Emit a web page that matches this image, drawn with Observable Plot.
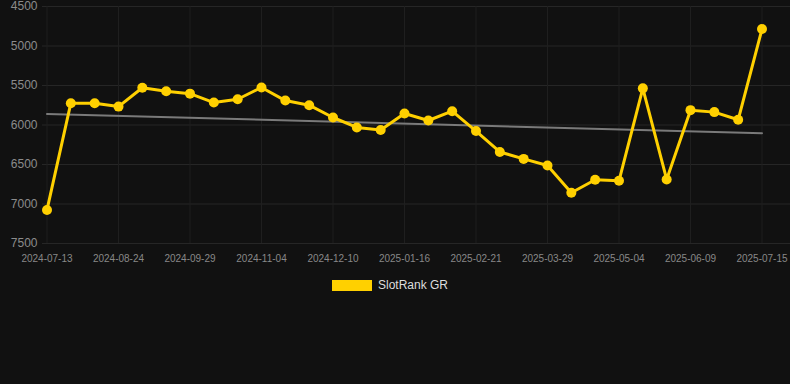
<!DOCTYPE html>
<html>
<head>
<meta charset="utf-8">
<script src="https://cdn.jsdelivr.net/npm/d3@7"></script>
<script src="https://cdn.jsdelivr.net/npm/@observablehq/plot@0.6"></script>
<style>
  html, body { margin: 0; padding: 0; background: #111111; width: 790px; height: 384px; overflow: hidden; }
  #chart svg { display: block; }
  .legend { display: flex; justify-content: center; align-items: center; margin-top: 8px; padding-right: 10px;
    font-family: "Liberation Sans", Arial, sans-serif; font-size: 12px; color: #dddddd; }
  .legend .sw { width: 40px; height: 11px; background: #FFD000; margin-right: 6px; }
</style>
</head>
<body>
<div id="chart"></div>
<div class="legend"><span class="sw"></span><span>SlotRank GR</span></div>
<script>
const dates = [
  "2024-07-13","2024-07-27","2024-08-10","2024-08-24","2024-09-05","2024-09-17","2024-09-29",
  "2024-10-11","2024-10-23","2024-11-04","2024-11-16","2024-11-28","2024-12-10","2024-12-22",
  "2025-01-04","2025-01-16","2025-01-28","2025-02-09","2025-02-21","2025-03-05","2025-03-17",
  "2025-03-29","2025-04-10","2025-04-22","2025-05-04","2025-05-16","2025-05-28","2025-06-09",
  "2025-06-21","2025-07-03","2025-07-15"
];
const rank = [
  7075, 5724, 5724, 5767, 5528, 5573, 5603, 5716, 5674, 5525,
  5691, 5749, 5905, 6031, 6064, 5855, 5943, 5825, 6077, 6341,
  6429, 6513, 6857, 6693, 6706, 5536, 6689, 5812, 5837, 5934, 4785
];
const tickLabels = [
  "2024-07-13","2024-08-24","2024-09-29","2024-11-04","2024-12-10","2025-01-16",
  "2025-02-21","2025-03-29","2025-05-04","2025-06-09","2025-07-15"
];
const yTicks = [4500, 5000, 5500, 6000, 6500, 7000, 7500];
const trendDates = ["2024-07-13", "2025-07-15"];
const trendValues = [5860, 6105];

const data = dates.map((d, i) => ({i, date: d, rank: rank[i]}));
const trend = trendDates.map((d, k) => ({i: dates.indexOf(d), rank: trendValues[k]}));
const tickIdx = tickLabels.map(d => dates.indexOf(d));

const chart = Plot.plot({
  width: 790,
  height: 270,
  marginLeft: 42,
  marginRight: 0,
  marginTop: 6,
  marginBottom: 27,
  style: {background: "#111111", color: "#8a8a8a", fontFamily: "'Liberation Sans', Arial, sans-serif"},
  x: {type: "linear", domain: [0, dates.length - 1], insetLeft: 4.5, insetRight: 28.5, label: null},
  y: {domain: [4500, 7500], reverse: true, label: null},
  marks: [
    Plot.gridY(yTicks, {stroke: "#262626", strokeOpacity: 1}),
    Plot.gridX(tickIdx, {stroke: "#1f1f1f", strokeOpacity: 1}),
    Plot.axisY(yTicks, {tickSize: 0, tickPadding: 5, fontSize: 12, fill: "#8c8c8c", label: null, tickFormat: d => String(d)}),
    Plot.axisX(tickIdx, {tickSize: 0, tickPadding: 11, fontSize: 10, fill: "#888888", label: null, tickFormat: i => dates[i]}),
    Plot.line(trend, {x: "i", y: "rank", stroke: "#7a7a7a", strokeWidth: 2}),
    Plot.line(data, {x: "i", y: "rank", stroke: "#FFD000", strokeWidth: 3}),
    Plot.dot(data, {x: "i", y: "rank", r: 5, fill: "#FFD000", stroke: "none"})
  ]
});
document.getElementById("chart").appendChild(chart);
</script>
</body>
</html>
